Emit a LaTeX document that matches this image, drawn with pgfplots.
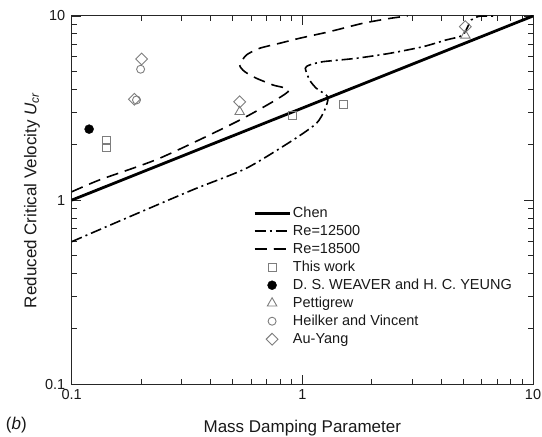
\documentclass[border=0pt]{standalone}
\usepackage{pgfplots}
\pgfplotsset{compat=1.18}
\usepackage{fontspec}
\setmainfont{Liberation Sans}
\definecolor{mk}{RGB}{125,125,125}
\definecolor{txt}{RGB}{25,25,25}
\begin{document}
\begin{tikzpicture}
\begin{loglogaxis}[
  at={(0,0)}, anchor=south west,
  scale only axis, width=461.3bp, height=368.3bp,
  xmin=0.1, xmax=10, ymin=0.1, ymax=10,
  xtick={0.1,1,10}, ytick={0.1,1,10},
  xticklabels={0.1,1,10}, yticklabels={0.1,1,10},
  minor xtick={0.2,0.3,0.4,0.5,0.6,0.7,0.8,0.9,2,3,4,5,6,7,8,9},
  minor ytick={0.2,0.3,0.4,0.5,0.6,0.7,0.8,0.9,2,3,4,5,6,7,8,9},
  tick align=inside, major tick length=9bp, minor tick length=5bp,
  axis line style={line width=1bp, black!85},
  every tick/.style={line width=0.9bp, black!85},
  ticklabel style={font=\fontsize{14.5bp}{16bp}\selectfont, text=txt},
  xticklabel style={yshift=-2bp},
  yticklabel style={xshift=-3bp},
  /pgf/number format/assume math mode=true,
  xlabel={Mass Damping Parameter},
  ylabel={Reduced Critical Velocity \textit{U}\textsubscript{\textit{cr}}},
  every axis x label/.style={at={(axis description cs:0.5,-0.1195)}, anchor=center,
    font=\fontsize{17bp}{20bp}\selectfont, text=txt},
  every axis y label/.style={at={(axis description cs:-0.0861,0.5)}, rotate=90, anchor=center,
    font=\fontsize{17bp}{20bp}\selectfont, text=txt},
  legend style={draw=none, fill=none, at={(rel axis cs:0.393,0.4895)}, anchor=north west,
    font=\fontsize{14.5bp}{16bp}\selectfont, text=txt, inner sep=0pt,
    nodes={text height=11bp, text depth=3bp, inner sep=2bp}},
  legend cell align=left,
  legend image code/.code={\draw[mark repeat=2,mark phase=2,#1] plot coordinates {(0bp,0bp) (17.5bp,0bp) (35bp,0bp)};},
]
% Chen
\addplot[black, line width=2.8bp] coordinates {(0.1,1) (10,10)};
\addlegendentry{Chen}
% Re=12500
\addplot[black, line width=1.6bp, dash pattern=on 11bp off 4bp on 2bp off 4bp, smooth, tension=0.4] coordinates {
 (0.1,0.595) (0.173,0.80) (0.336,1.14) (0.572,1.49) (0.911,2.12) (1.15,2.61)
 (1.25,3.09) (1.29,3.63) (1.15,4.05) (1.075,4.49) (1.03,5.20) (1.075,5.42)
 (1.23,5.65) (1.71,5.89) (2.39,6.27) (3.33,6.81) (4.20,7.41) (4.96,7.88)
 (5.40,9.51) (5.85,9.97) (6.8,9.97)};
\addlegendentry{Re=12500}
% Re=18500
\addplot[black, line width=1.6bp, dash pattern=on 12bp off 7bp, smooth, tension=0.4] coordinates {
 (0.1,1.11) (0.1325,1.29) (0.241,1.69) (0.535,2.72) (0.867,3.88) (0.746,4.22)
 (0.632,4.59) (0.562,4.99) (0.535,5.42) (0.572,6.14) (0.653,6.68) (0.797,7.11)
 (0.973,7.57) (1.31,8.22) (1.83,9.13) (2.39,9.7) (2.86,10)};
\addlegendentry{Re=18500}
% This work
\addplot[only marks, mark=square, mark size=4bp, mk, line width=0.9bp] coordinates {
 (0.142,2.10) (0.142,1.94) (0.906,2.90) (1.50,3.29)};
\addlegendentry{This work}
% Weaver & Yeung
\addplot[only marks, mark=*, mark size=4.5bp, black] coordinates {(0.119,2.43)};
\addlegendentry{D. S. WEAVER and H. C. YEUNG}
% Pettigrew
\addplot[only marks, mark=triangle, mark size=5.5bp, mk, line width=0.9bp] coordinates {
 (0.535,3.02) (5.09,7.85)};
\addlegendentry{Pettigrew}
% Heilker and Vincent
\addplot[only marks, mark=o, mark size=4bp, mk, line width=0.9bp] coordinates {
 (0.199,5.14) (0.191,3.50)};
\addlegendentry{Heilker and Vincent}
% Au-Yang
\addplot[only marks, mark=square, mark size=4.2bp, mark options={rotate=45}, mk, line width=0.9bp] coordinates {
 (0.201,5.84) (0.187,3.53) (0.535,3.42) (5.09,8.75)};
\addlegendentry{Au-Yang}
\end{loglogaxis}
\node[anchor=west, font=\fontsize{17bp}{20bp}\selectfont, text=txt, inner sep=0pt] at (-66bp,-41bp) {(\textit{b})};
\pgfresetboundingbox
\path[use as bounding box] (-71.7bp,-52.7bp) rectangle (470.3bp,384.3bp);
\end{tikzpicture}
\end{document}
